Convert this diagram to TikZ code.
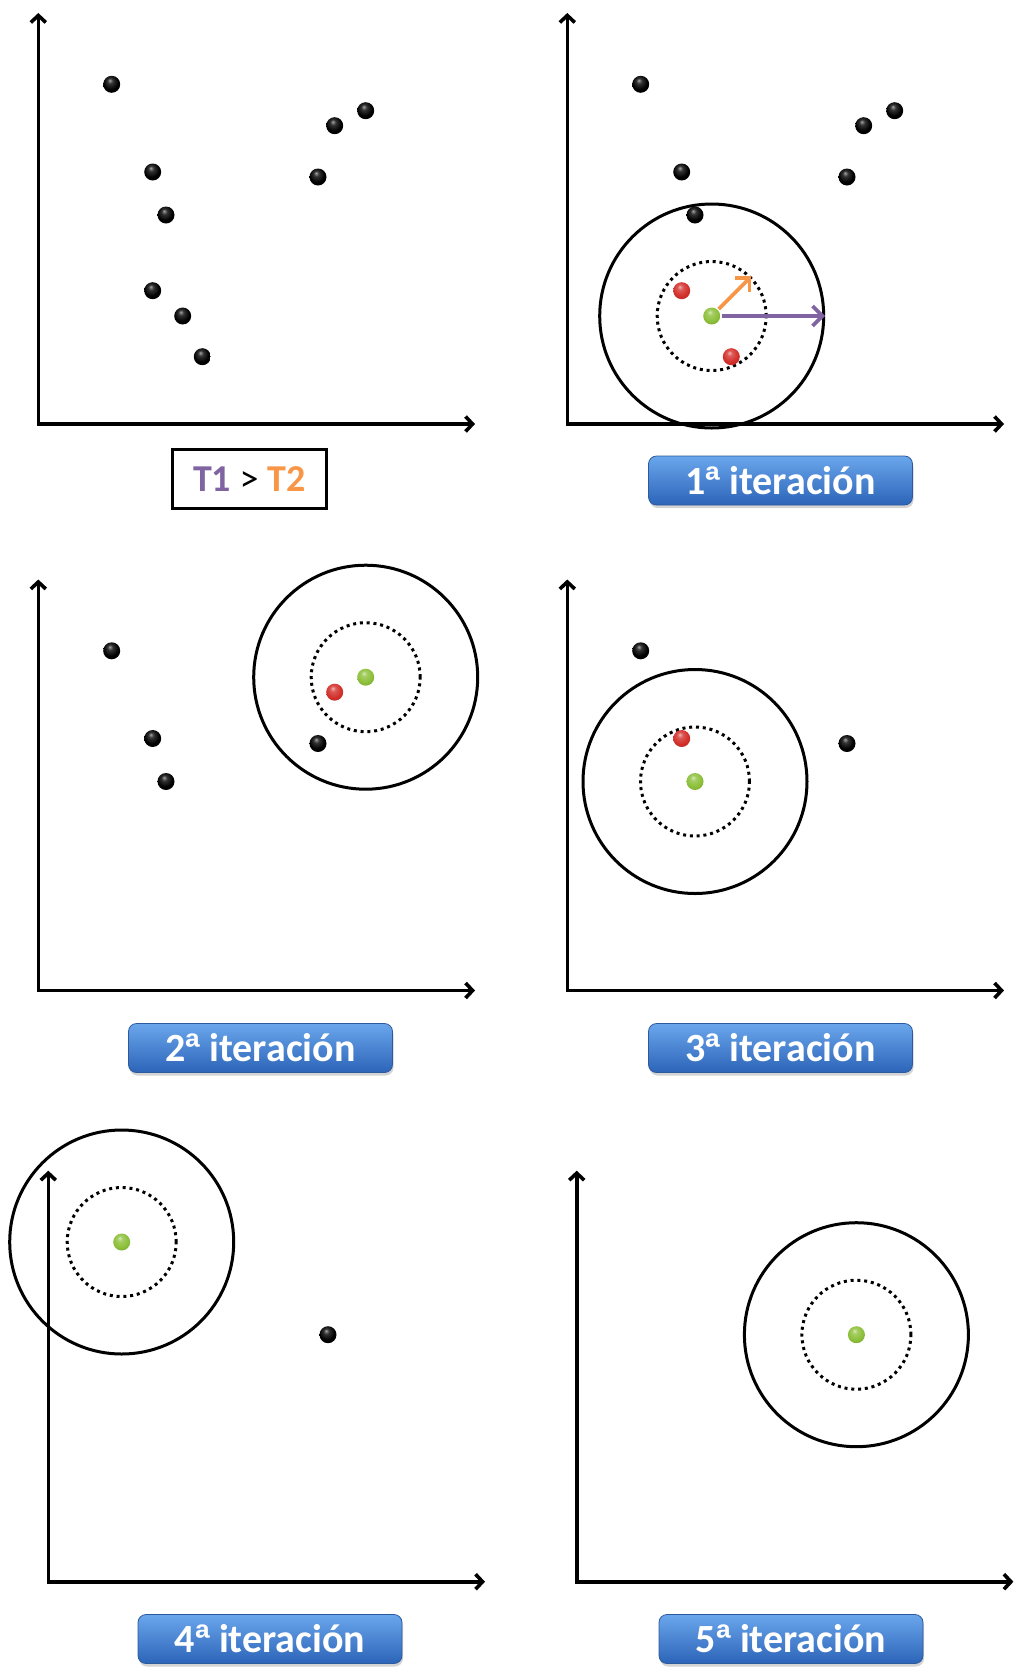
\documentclass[tikz,border=0pt]{standalone}
\usepackage{fontspec}
\setmainfont{Carlito}
\newfontfamily\ordfont{Liberation Sans}
\usepackage{xcolor}
\definecolor{ink}{HTML}{000000}
\definecolor{seed}{HTML}{8DC03A}
\definecolor{near}{HTML}{D3302B}
\definecolor{tone}{HTML}{8064A2}
\definecolor{ttwo}{HTML}{F79646}
\definecolor{btnhi}{HTML}{6AA6EC}
\definecolor{btnlo}{HTML}{2C64B8}
\definecolor{btnedge}{HTML}{2B5A9E}
\colorlet{pntcol}{black}
\usetikzlibrary{arrows.meta,positioning,shadows}
\pgfdeclareradialshading[pntcol]{sphere}{\pgfqpoint{-6bp}{12bp}}{%
  color(0bp)=(pntcol!35!white); color(8bp)=(pntcol!80!white); color(22bp)=(pntcol);
  color(40bp)=(pntcol!80!black); color(50bp)=(pntcol!60!black)}
\tikzset{
  every picture/.style={line width=2.6pt},
  axis/.style={draw=ink, line width=3.6pt, {Straight Barb[length=7pt,width=15pt]}-{Straight Barb[length=7pt,width=15pt]}},
  pnt/.style={circle, inner sep=0pt, minimum size=17pt, /utils/exec={\colorlet{pntcol}{#1}}, shading=sphere},
  pnt/.default=black,
  fullring/.style={circle, draw=ink, line width=3pt, inner sep=0pt, minimum size=224pt},
  dotring/.style={circle, draw=ink, line width=3pt, dash pattern=on 3pt off 3.8pt, inner sep=0pt, minimum size=109pt},
  radial/.style={draw=#1, line width=3.8pt, -{Straight Barb[length=10pt,width=20pt]}},
  btn/.style={rounded corners=8pt, top color=btnhi, bottom color=btnlo, draw=btnedge, line width=0.8pt,
    minimum width=264pt, minimum height=49pt, inner sep=0pt, text=white,
    font=\fontsize{40}{44}\selectfont\bfseries,
    drop shadow={shadow xshift=1pt, shadow yshift=-3pt, opacity=0.35}},
  legend/.style={draw=ink, line width=2.8pt, minimum width=154pt, minimum height=59pt, inner sep=0pt,
    font=\fontsize{38}{42}\selectfont},
}
\newcommand{\ord}{{\ordfont ª}}

\begin{document}
\begin{tikzpicture}[x=1pt, y=-1pt]
  \useasboundingbox (0,0) rectangle (1017,1679);
  \newcommand{\axespair}[1]{%
    \coordinate (#1top) at (38.3,13);
    \coordinate (#1org) at (38.3,424);
    \coordinate (#1end) at (475,424);
    \draw[axis] (#1top) -- (#1org) -- (#1end);}

  % datos
  \axespair{a}
  \foreach \n/\x/\y in {1/111.7/84.3, 2/152.7/172, 3/166/215, 4/152.7/290.7, 5/182.7/316,
      6/202.3/356.7, 7/334.7/125.7, 8/365.7/110.7, 9/318/177}
    \node[pnt] (a\n) at (\x,\y) {};
  \node[legend] (key) at (249.2,479) {\textbf{\color{tone}T1} > \textbf{\color{ttwo}T2}};

  % 1a iteracion
  \begin{scope}[shift={(529,0)}]
    \axespair{b}
    \node[fullring] (rb) at (182.7,316) {};
    \node[dotring] (db) at (182.7,316) {};
    \foreach \n/\x/\y/\col in {1/111.7/84.3/black, 2/152.7/172/black, 3/166/215/black,
        4/152.7/290.7/near, 5/182.7/316/seed, 6/202.3/356.7/near, 7/334.7/125.7/black,
        8/365.7/110.7/black, 9/318/177/black}
      \node[pnt=\col] (b\n) at (\x,\y) {};
    \draw[radial=tone] (b5) -- (rb.east);
    \draw[radial=ttwo] (b5) -- (db.north east);
  \end{scope}
  \node[btn] (it1) at (780.5,480.5) {1\ord\ iteración};

  % 2a iteracion
  \begin{scope}[shift={(0,566.5)}]
    \axespair{c}
    \node[fullring] (rc) at (365.7,110.7) {};
    \node[dotring] (dc) at (365.7,110.7) {};
    \foreach \n/\x/\y/\col in {1/111.7/84.3/black, 2/152.7/172/black, 3/166/215/black,
        7/334.7/125.7/near, 8/365.7/110.7/seed, 9/318/177/black}
      \node[pnt=\col] (c\n) at (\x,\y) {};
  \end{scope}
  \node[btn] (it2) at (260.5,1048) {2\ord\ iteración};

  % 3a iteracion
  \begin{scope}[shift={(529,566.5)}]
    \axespair{d}
    \node[fullring] (rd) at (166,215) {};
    \node[dotring] (dd) at (166,215) {};
    \foreach \n/\x/\y/\col in {1/111.7/84.3/black, 2/152.7/172/near, 3/166/215/seed,
        9/318/177/black}
      \node[pnt=\col] (d\n) at (\x,\y) {};
  \end{scope}
  \node[btn] (it3) at (780.5,1048) {3\ord\ iteración};

  % 4a iteracion
  \begin{scope}[shift={(10,1157.7)}]
    \axespair{e}
    \node[fullring] (re) at (111.7,84.3) {};
    \node[dotring] (de) at (111.7,84.3) {};
    \foreach \n/\x/\y/\col in {1/111.7/84.3/seed, 9/318/177/black}
      \node[pnt=\col] (e\n) at (\x,\y) {};
  \end{scope}
  \node[btn] (it4) at (270,1639) {4\ord\ iteración};

  % 5a iteracion
  \begin{scope}[shift={(538.4,1157.7)}]
    \axespair{f}
    \node[fullring] (rf) at (318,177) {};
    \node[dotring] (df) at (318,177) {};
    \node[pnt=seed] (f9) at (318,177) {};
  \end{scope}
  \node[btn] (it5) at (791,1639) {5\ord\ iteración};
\end{tikzpicture}
\end{document}
